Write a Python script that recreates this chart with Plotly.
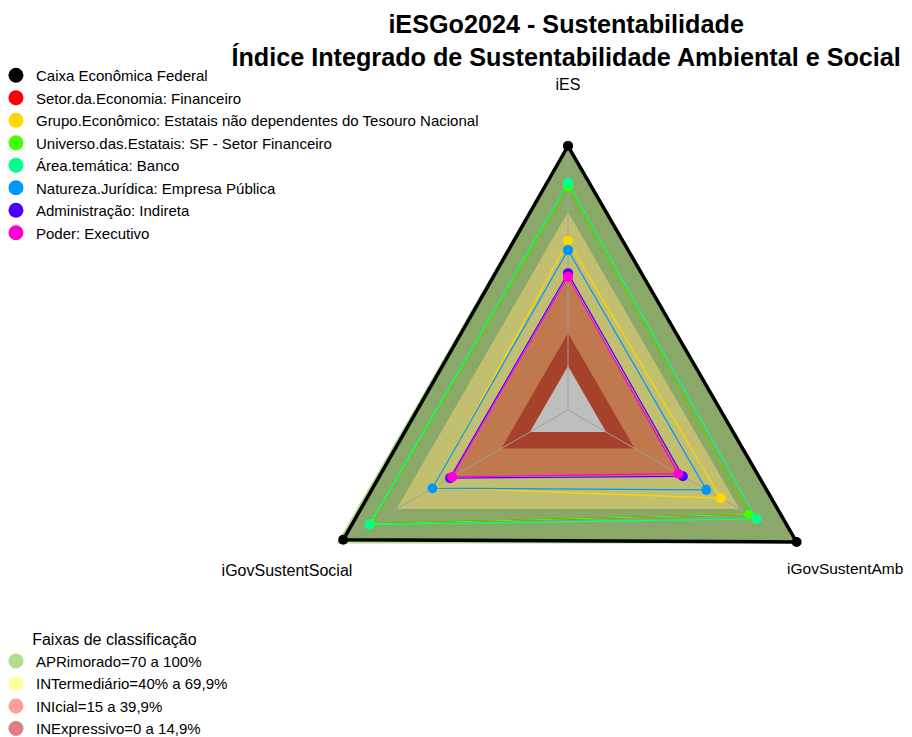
import plotly.graph_objects as go

# eixos do radar
categorias = ['iES', 'iGovSustentAmb', 'iGovSustentSocial']

# séries (iES, iGovSustentAmb, iGovSustentSocial)
nomes = [
    'Caixa Econômica Federal',
    'Setor.da.Economia: Financeiro',
    'Grupo.Econômico: Estatais não dependentes do Tesouro Nacional',
    'Universo.das.Estatais: SF - Setor Financeiro',
    'Área.temática: Banco',
    'Natureza.Jurídica: Empresa Pública',
    'Administração: Indireta',
    'Poder: Executivo',
]
caixa = [100, 100, 98]
setor = [81.5, 74.9, 83.5]
grupo = [56.8, 60.2, 50.5]
universo = [81.5, 74.9, 83.5]
area = [83.3, 79.0, 84.2]
natureza = [52.7, 52.6, 51.1]
administracao = [42.1, 40.3, 41.9]
poder = [40.6, 37.9, 40.8]
valores = [caixa, setor, grupo, universo, area, natureza, administracao, poder]
cores = ['#000000', '#FF0000', '#FFD700', '#44FF00', '#00FF8C', '#0096FF', '#4B00FF', '#FF00D4']

# faixas de classificação
faixas_limites = [100, 70, 40, 15, 0]
faixas_preench = ['#8AA867', '#C2C070', '#C0784E', '#A6412B', '#BEBEBE']
faixas_nomes = ['APRimorado=70 a 100%', 'INTermediário=40% a 69,9%',
                'INIcial=15 a 39,9%', 'INExpressivo=0 a 14,9%']
faixas_cores = ['#B5DC8C', '#FFFF9C', '#FF9C9C', '#DC8080']

fechado = categorias + categorias[:1]
fig = go.Figure()

# faixas de fundo (triângulos sobrepostos, do maior para o menor)
for i, (lim, cor) in enumerate(zip(faixas_limites, faixas_preench)):
    fig.add_trace(go.Scatterpolar(
        r=[lim] * 4, theta=fechado, mode='lines', fill='toself',
        fillcolor=cor,
        line=dict(color='#B5DC8C' if i == 0 else cor, width=3 if i == 0 else 0),
        showlegend=False, hoverinfo='skip'))

# raios (eixos)
raio_r, raio_t = [], []
for c in categorias:
    raio_r += [-20, 100, None]
    raio_t += [c, c, c]
fig.add_trace(go.Scatterpolar(r=raio_r, theta=raio_t, mode='lines',
                              line=dict(color='#A0A0A0', width=1),
                              showlegend=False, hoverinfo='skip'))

# séries
for i, (nome, v, cor) in enumerate(zip(nomes, valores, cores)):
    grosso = i == 0
    fig.add_trace(go.Scatterpolar(
        r=v + v[:1], theta=fechado, mode='lines+markers', name=nome,
        line=dict(color=cor, width=3.5 if grosso else 1.2),
        marker=dict(color=cor, size=10),
        showlegend=False))

# itens de legenda
for nome, cor in zip(nomes, cores):
    fig.add_trace(go.Scatterpolar(r=[None], theta=[categorias[0]], mode='markers',
                                  name=nome, marker=dict(color=cor, size=15),
                                  legend='legend'))
for nome, cor in zip(faixas_nomes, faixas_cores):
    fig.add_trace(go.Scatterpolar(r=[None], theta=[categorias[0]], mode='markers',
                                  name=nome, marker=dict(color=cor, size=15),
                                  legend='legend2'))

# rótulos dos eixos
fig.add_trace(go.Scatterpolar(r=[127.5, 125.5, 127.5], theta=categorias, mode='text',
                              text=categorias, textposition='middle center',
                              textfont=dict(size=[16, 15.5, 16], color='#000000'),
                              cliponaxis=False, showlegend=False, hoverinfo='skip'))

fig.update_layout(
    width=912, height=737,
    margin=dict(l=0, r=0, t=0, b=0, autoexpand=False),
    paper_bgcolor='white',
    font=dict(family='Arial, Liberation Sans, sans-serif', color='#000000'),
    title=dict(text='<b>iESGo2024 - Sustentabilidade<br>Índice Integrado de Sustentabilidade Ambiental e Social</b>',
               x=0.612, xanchor='center', y=0.966, yanchor='top', yref='container',
               font=dict(size=25.2, color='#000000')),
    polar=dict(
        domain=dict(x=[0.25702, 0.97105], y=[0.01275, 0.89634]),
        bgcolor='rgba(0,0,0,0)',
        gridshape='linear',
        radialaxis=dict(range=[-20, 128], visible=False),
        angularaxis=dict(rotation=90, direction='clockwise', showgrid=False,
                         showline=False, showticklabels=False, ticks=''),
    ),
    legend=dict(x=-0.0132, y=0.9308, xanchor='left', yanchor='top',
                font=dict(size=15), tracegroupgap=0),
    legend2=dict(x=-0.0132, y=0.0, xanchor='left', yanchor='bottom',
                 font=dict(size=15),
                 title=dict(text='Faixas de classificação', side='top center',
                            font=dict(size=16))),
)

fig.write_html('out.html')
